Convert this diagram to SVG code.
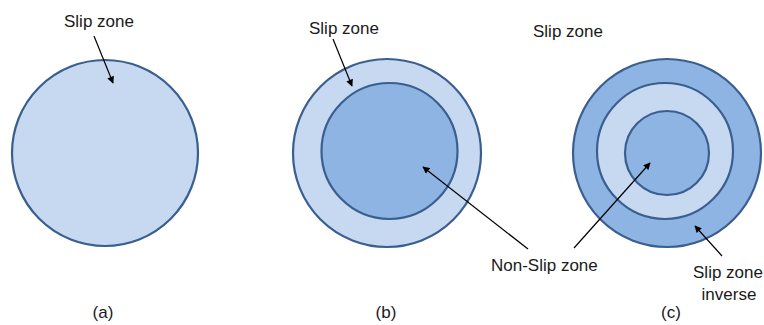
<svg xmlns="http://www.w3.org/2000/svg" width="764" height="325" viewBox="0 0 764 325">
<style>
.light{fill:#c6d9f1;stroke:#3a5f8f;stroke-width:2.2}
.dark{fill:#8eb4e3;stroke:#3a5f8f;stroke-width:2.2}
.lbl{font-family:"Liberation Sans",Arial,sans-serif;font-size:17px;fill:#1a1a1a}
.con{stroke:#000;stroke-width:1.2;fill:none;marker-end:url(#ah)}
</style>
<defs>
<marker id="ah" viewBox="0 0 10 10" refX="9" refY="5" markerWidth="8" markerHeight="7" orient="auto" markerUnits="userSpaceOnUse">
<path d="M0,0 L10,5 L0,10 z" fill="#000"/>
</marker>
</defs>
<rect width="764" height="325" fill="#fff"/>
<g id="circle-a">
<circle class="light" cx="105" cy="153" r="93"/>
</g>
<g id="circle-b">
<circle class="light" cx="387" cy="153" r="94"/>
<circle class="dark" cx="389.5" cy="151" r="68"/>
</g>
<g id="circle-c">
<circle class="dark" cx="667" cy="153" r="94"/>
<circle class="light" cx="665" cy="151" r="68"/>
<circle class="dark" cx="667" cy="153" r="42"/>
</g>
<g id="labels">
<text class="lbl" x="64" y="27">Slip zone</text>
<text class="lbl" x="309" y="34">Slip zone</text>
<text class="lbl" x="533" y="37">Slip zone</text>
<text class="lbl" x="491" y="271">Non-Slip zone</text>
<text class="lbl" x="728" y="278" text-anchor="middle">Slip zone</text>
<text class="lbl" x="729" y="300" text-anchor="middle">inverse</text>
<text class="lbl" x="103" y="318" text-anchor="middle">(a)</text>
<text class="lbl" x="386" y="318" text-anchor="middle">(b)</text>
<text class="lbl" x="671" y="318" text-anchor="middle">(c)</text>
</g>
<g id="connectors">
<line class="con" x1="94" y1="36" x2="113" y2="83"/>
<line class="con" x1="333" y1="39" x2="352" y2="86"/>
<line class="con" x1="528" y1="249" x2="423" y2="167"/>
<line class="con" x1="574" y1="248" x2="650" y2="163"/>
<line class="con" x1="722" y1="256" x2="695" y2="226"/>
</g>
</svg>
